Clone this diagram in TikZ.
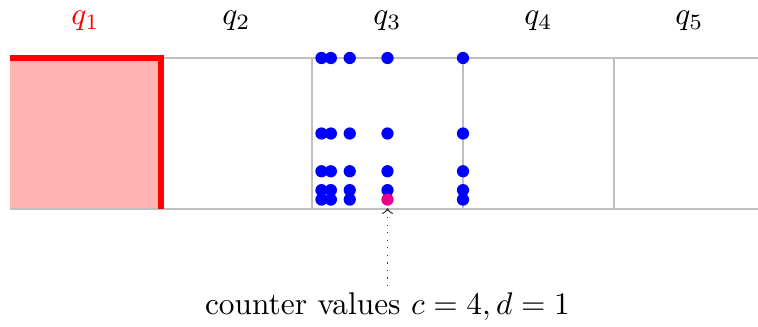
\documentclass[tikz,border=0pt]{standalone}
\definecolor{pinkdot}{RGB}{232,0,138}
\begin{document}
\begin{tikzpicture}[x=0.3186pt,y=-0.3186pt,
  gridline/.style={draw=gray!50, line width=0.4pt},
  dotnode/.style={circle, fill=blue, inner sep=0pt, minimum size=3.9pt},
  hitnode/.style={circle, fill=pinkdot, inner sep=0pt, minimum size=3.9pt},
  qlabel/.style={inner sep=1pt},
  pointer/.style={dotted, gray!40!black, ->, line width=0.4pt, shorten >=0.6pt}]
\useasboundingbox (0,0) rectangle (758,326);
\fill[red!30] (10,58) rectangle (161,209);
\draw[gridline] (10,58) -- (758,58);
\draw[gridline] (10,209) -- (758,209);
\foreach \x in {312,463,614} \draw[gridline] (\x,58) -- (\x,209);
\draw[red, line width=1.6pt] (10,58) -- (161,58) -- (161,209);
\node[qlabel, text=red] (q1) at (85.5,21) {$q_1$};
\node[qlabel] (q2) at (236.5,21) {$q_2$};
\node[qlabel] (q3) at (387.5,21) {$q_3$};
\node[qlabel] (q4) at (538.5,21) {$q_4$};
\node[qlabel] (q5) at (689.5,21) {$q_5$};
\foreach \i in {0,...,4}{
  \foreach \j in {0,...,4}{
    \pgfmathsetmacro{\px}{312+151/(2^\i)}
    \pgfmathsetmacro{\py}{209-151/(2^\j)}
    \ifnum\i=1 \ifnum\j=4
      \node[hitnode] (p\i\j) at (\px,\py) {};
    \else
      \node[dotnode] (p\i\j) at (\px,\py) {};
    \fi\else
      \node[dotnode] (p\i\j) at (\px,\py) {};
    \fi
  }
}
\node[inner sep=2pt] (lbl) at (387.5,307) {counter values $c=4, d=1$};
\draw[pointer] (lbl.north) -- (p14.south);
\end{tikzpicture}
\end{document}
